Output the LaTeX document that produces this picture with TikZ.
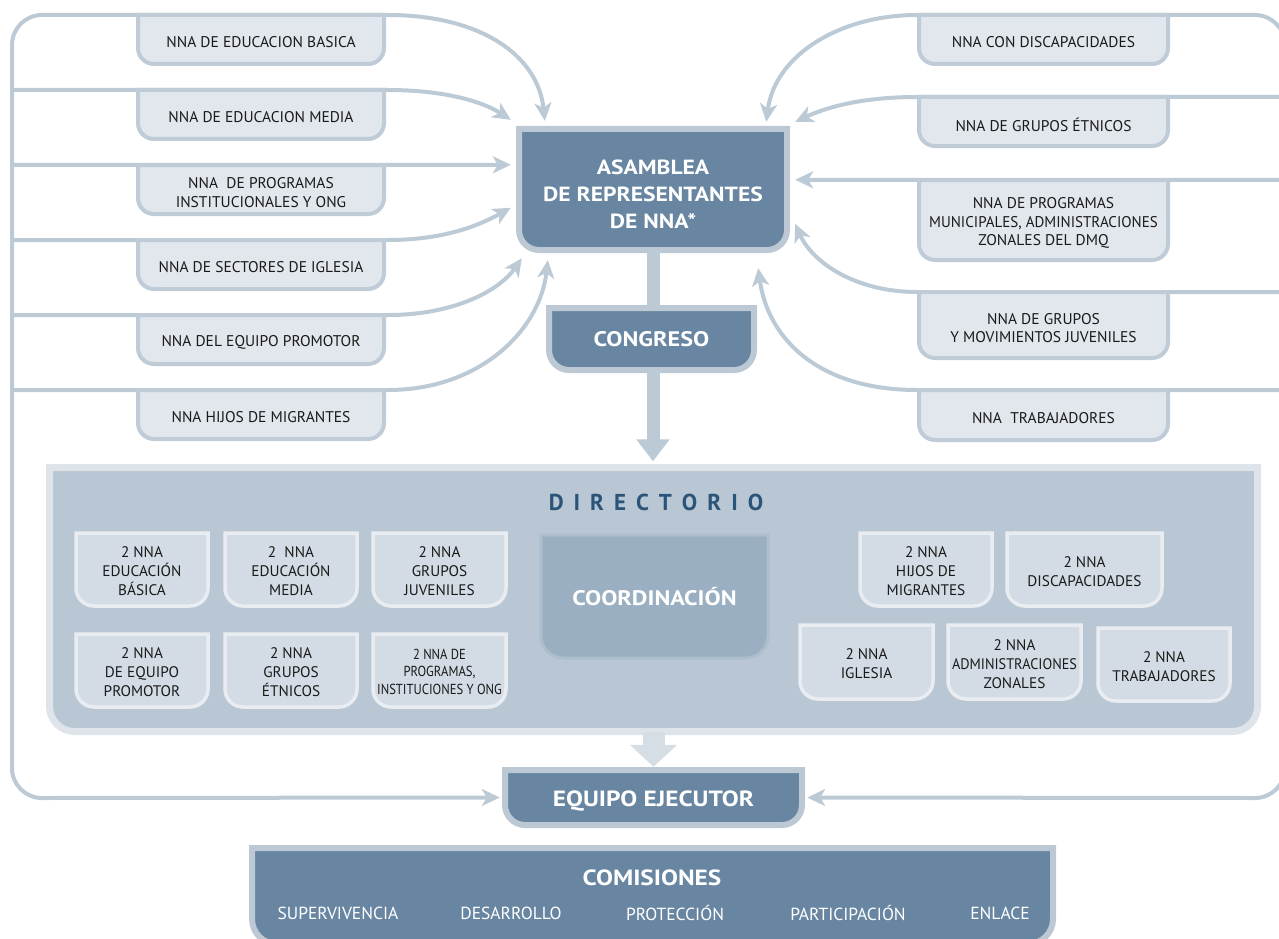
\documentclass[tikz,border=0pt]{standalone}
\usepackage{fontspec}
\setmainfont{PT Sans}
\usetikzlibrary{arrows.meta,calc}
\definecolor{railc}{HTML}{BCCAD6}
\definecolor{lfill}{HTML}{E2E7ED}
\definecolor{lbord}{HTML}{BFCBD6}
\definecolor{dfill}{HTML}{6886A1}
\definecolor{dbord}{HTML}{BCC9D4}
\definecolor{dirfill}{HTML}{B9C7D4}
\definecolor{dirbord}{HTML}{DEE4EA}
\definecolor{sfill}{HTML}{D3DCE4}
\definecolor{sbord}{HTML}{E9EDF1}
\definecolor{cfill}{HTML}{9AAFC1}
\definecolor{cbord}{HTML}{ADBECC}
\definecolor{dirtext}{HTML}{2B5479}
\definecolor{downbar}{HTML}{D5DDE5}
\definecolor{ink}{HTML}{1A1A1A}
\newcommand\wide{\addfontfeature{FakeStretch=1.15}}
\tikzset{
  lbox/.style={fill=lfill, draw=lbord, line width=4pt},
  lboxtxt/.style={font=\fontsize{15.5}{18.5}\selectfont, text=ink, yshift=-3pt},
  dbox/.style={fill=dfill, draw=dbord, line width=6pt},
  dboxtxt/.style={font=\fontsize{20.5}{27}\selectfont\bfseries\wide, text=white},
  dboxA/.style={dbox},
  dboxAtxt/.style={dboxtxt, yshift=-5pt},
  dboxB/.style={dbox},
  dboxBtxt/.style={font=\fontsize{21}{21}\selectfont\bfseries\wide, text=white},
  dboxC/.style={dbox},
  dboxCtxt/.style={font=\fontsize{22}{22}\selectfont\bfseries\wide, text=white, yshift=-4pt},
  sbox/.style={fill=sfill, draw=sbord, line width=3.5pt},
  sboxtxt/.style={font=\fontsize{15.3}{19}\selectfont, text=ink, yshift=-2pt},
  sboxn/.style={sbox},
  sboxntxt/.style={font=\fontsize{14.5}{17.5}\selectfont\addfontfeature{FakeStretch=0.87}, text=ink, yshift=-1pt},
  cbox/.style={fill=cfill, draw=cbord, line width=3pt},
  cboxtxt/.style={font=\fontsize{21}{24}\selectfont\bfseries\wide, text=white},
  dirbox/.style={fill=dirfill, draw=dirbord, line width=7pt},
  dirboxtxt/.style={},
  rail/.style={draw=railc, line width=4pt},
}
\newcommand\ubox[8][lbox]{%
  \pgfmathsetmacro\ubW{#5-#3}%
  \pgfmathsetmacro\ubH{#6-#4}%
  \pgfmathsetmacro\ubCX{(#3+#5)/2}%
  \pgfmathsetmacro\ubCY{(#4+#6)/2}%
  \pgfmathsetmacro\ubYA{#6-#7}%
  \pgfmathsetmacro\ubYB{#6-0.448*#7}%
  \pgfmathsetmacro\ubXA{#3+#7}%
  \pgfmathsetmacro\ubXC{#3+0.448*#7}%
  \pgfmathsetmacro\ubXB{#5-#7}%
  \pgfmathsetmacro\ubXD{#5-0.448*#7}%
  \draw[#1] (#3,#4) -- (#3,\ubYA) .. controls (#3,\ubYB) and (\ubXC,#6) .. (\ubXA,#6) -- (\ubXB,#6) .. controls (\ubXD,#6) and (#5,\ubYB) .. (#5,\ubYA) -- (#5,#4) -- cycle;
  \node[#1txt, minimum width=\ubW pt, minimum height=\ubH pt, inner sep=0pt, align=center] (#2) at (\ubCX,\ubCY) {#8};
}
\begin{document}
\begin{tikzpicture}[x=1pt,y=-1pt,
  stl/.tip={Stealth[length=18pt,width=17pt,inset=5pt]}]
\useasboundingbox (0,0) rectangle (1279,939);

% central boxes
\ubox[dboxA]{asam}{519}{129}{787}{250}{20}{ASAMBLEA\\DE REPRESENTANTES\\DE NNA*}
\ubox[dboxB]{cong}{549}{308}{754}{370}{20}{CONGRESO}
\ubox[dboxC]{equipo}{505}{770}{802}{825}{20}{EQUIPO EJECUTOR}

% tips (asam node is shifted 5pt down, equipo node 4pt down)
\coordinate (tl1) at ([xshift=26pt,yshift=13pt]asam.north west);
\coordinate (tl2) at ([xshift=-8pt,yshift=14pt]asam.north west);
\coordinate (tl3) at ([xshift=-8pt,yshift=-31pt]asam.north west);
\coordinate (tl4) at ([xshift=-8pt,yshift=-74pt]asam.north west);
\coordinate (tl5) at ([xshift=3pt,yshift=-3pt]asam.south west);
\coordinate (tl6) at ([xshift=29pt,yshift=-5pt]asam.south west);
\coordinate (tr1) at ([xshift=-21pt,yshift=12pt]asam.north east);
\coordinate (tr2) at ([xshift=8pt,yshift=12pt]asam.north east);
\coordinate (tr3) at ([xshift=8pt,yshift=-46pt]asam.north east);
\coordinate (tr4) at ([xshift=8pt,yshift=-90pt]asam.north east);
\coordinate (tr5) at ([xshift=-29pt,yshift=-13pt]asam.south east);
\coordinate (teW) at ([xshift=-5pt,yshift=4pt]equipo.west);
\coordinate (teE) at ([xshift=5pt,yshift=4pt]equipo.east);

% left rail
\draw[rail,stl-stl] (tl1) .. controls (538,55) and (480,15) .. (388,15) -- (42,15) .. controls (25.4,15) and (12,28.4) .. (12,45) -- (12,768) .. controls (12,784.6) and (25.4,798) .. (42,798) -- (teW);
\draw[rail,-stl] (12,90) -- (388,90) .. controls (440,90) and (480,100) .. (tl2);
\draw[rail,-stl] (12,165) -- (tl3);
\draw[rail,-stl] (12,240) -- (388,240) .. controls (450,240) and (485,222) .. (tl4);
\draw[rail,-stl] (12,315) -- (388,315) .. controls (455,315) and (500,290) .. (tl5);
\draw[rail,-stl] (12,390) -- (388,390) .. controls (480,390) and (540,330) .. (tl6);

% right rail
\draw[rail,stl-stl] (tr1) .. controls (775,55) and (840,15) .. (917,15) -- (1255,15) .. controls (1271.6,15) and (1285,28.4) .. (1285,45) -- (1285,768) .. controls (1285,784.6) and (1271.6,798) .. (1255,798) -- (teE);
\draw[rail,-stl] (1285,97) -- (917,97) .. controls (860,97) and (825,108) .. (tr2);
\draw[rail,-stl] (1285,180) -- (tr3);
\draw[rail,-stl] (1285,292) -- (917,292) .. controls (855,292) and (812,262) .. (tr4);
\draw[rail,-stl] (1285,390) -- (917,390) .. controls (820,390) and (768,340) .. (tr5);

% left boxes
\ubox[lbox]{l1}{138}{15}{384}{64}{16}{NNA DE EDUCACION BASICA}
\ubox[lbox]{l2}{138}{90}{384}{139}{16}{NNA DE EDUCACION MEDIA}
\ubox[lbox]{l3}{138}{165}{384}{214}{16}{NNA\ \ DE PROGRAMAS\\INSTITUCIONALES Y ONG}
\ubox[lbox]{l4}{138}{240}{384}{289}{16}{NNA DE SECTORES DE IGLESIA}
\ubox[lbox]{l5}{138}{315}{384}{364}{16}{NNA DEL EQUIPO PROMOTOR}
\ubox[lbox]{l6}{138}{390}{384}{439}{16}{NNA HIJOS DE MIGRANTES}

% right boxes
\ubox[lbox]{r1}{919}{15}{1168}{64}{16}{NNA CON DISCAPACIDADES}
\ubox[lbox]{r2}{919}{97}{1168}{146}{16}{NNA DE GRUPOS ÉTNICOS}
\ubox[lbox]{r3}{919}{180}{1168}{260}{16}{NNA DE PROGRAMAS\\{\addfontfeature{FakeStretch=0.97}MUNICIPALES, ADMINISTRACIONES}\\ZONALES DEL DMQ}
\ubox[lbox]{r4}{919}{292}{1168}{358}{16}{NNA DE GRUPOS\\Y MOVIMIENTOS JUVENILES}
\ubox[lbox]{r5}{919}{390}{1168}{440}{16}{NNA\ \ TRABAJADORES}

% directorio
\ubox[dirbox]{dir}{49.5}{467.5}{1257.5}{731.5}{25}{}
\node[font=\fontsize{23}{23}\selectfont\bfseries, text=dirtext] (dirtitle) at (656,502)
  {D\kern10pt I\kern10pt R\kern10pt E\kern10pt C\kern10pt T\kern10pt O\kern10pt R\kern10pt I\kern10pt O};
\ubox[sbox]{b1}{76}{533}{208}{606}{18}{2 NNA\\EDUCACIÓN\\BÁSICA}
\ubox[sbox]{b2}{225}{533}{357}{606}{18}{2\ \ NNA\\EDUCACIÓN\\MEDIA}
\ubox[sbox]{b3}{373}{533}{506}{606}{18}{2 NNA\\GRUPOS\\JUVENILES}
\ubox[sbox]{b4}{76}{634}{208}{707}{18}{2 NNA\\DE EQUIPO\\PROMOTOR}
\ubox[sbox]{b5}{225}{634}{357}{707}{18}{2 NNA\\GRUPOS\\ÉTNICOS}
\ubox[sboxn]{b6}{373}{634}{506}{707}{18}{2 NNA DE\\PROGRAMAS,\\INSTITUCIONES Y ONG}
\ubox[cbox]{coord}{541}{535}{768}{658}{22}{COORDINACIÓN}
\ubox[sbox]{b7}{860}{533}{992}{606}{18}{2 NNA\\HIJOS DE\\MIGRANTES}
\ubox[sbox]{b8}{1007}{533}{1162}{606}{18}{2 NNA\\DISCAPACIDADES}
\ubox[sbox]{b9}{800}{625}{933}{699}{18}{2 NNA\\IGLESIA}
\ubox[sbox]{b10}{948}{625}{1081}{699}{18}{2 NNA\\{\addfontfeature{FakeStretch=0.93}ADMINISTRACIONES}\\ZONALES}
\ubox[sbox]{b11}{1098}{628}{1230}{701}{18}{2 NNA\\TRABAJADORES}

% comisiones
\ubox[dbox]{comis}{252}{848}{1053}{944}{25}{}
\node[font=\fontsize{22}{22}\selectfont\bfseries\wide, text=white] (comtitle) at (652,878) {COMISIONES};
\begin{scope}[every node/.style={font=\fontsize{17.5}{17.5}\selectfont, text=white}]
\node (c1) at (338,913) {SUPERVIVENCIA};
\node (c2) at (511,913) {DESARROLLO};
\node (c3) at (675,913) {PROTECCIÓN};
\node (c4) at (848,913) {PARTICIPACIÓN};
\node (c5) at (1000,913) {ENLACE};
\end{scope}

% vertical flow
\draw[draw=railc, line width=13pt] ([yshift=5pt]asam.south) -- (asam.south |- cong.north);
\draw[draw=railc, line width=13pt, -{Triangle[width=32pt,length=22pt]}] (asam.south |- cong.south) -- ([yshift=6pt]asam.south |- dir.north);
\draw[draw=downbar, line width=22pt, -{Triangle[width=46pt,length=22pt]}] (dir.south) -- ([yshift=7pt]equipo.north);
\end{tikzpicture}
\end{document}
